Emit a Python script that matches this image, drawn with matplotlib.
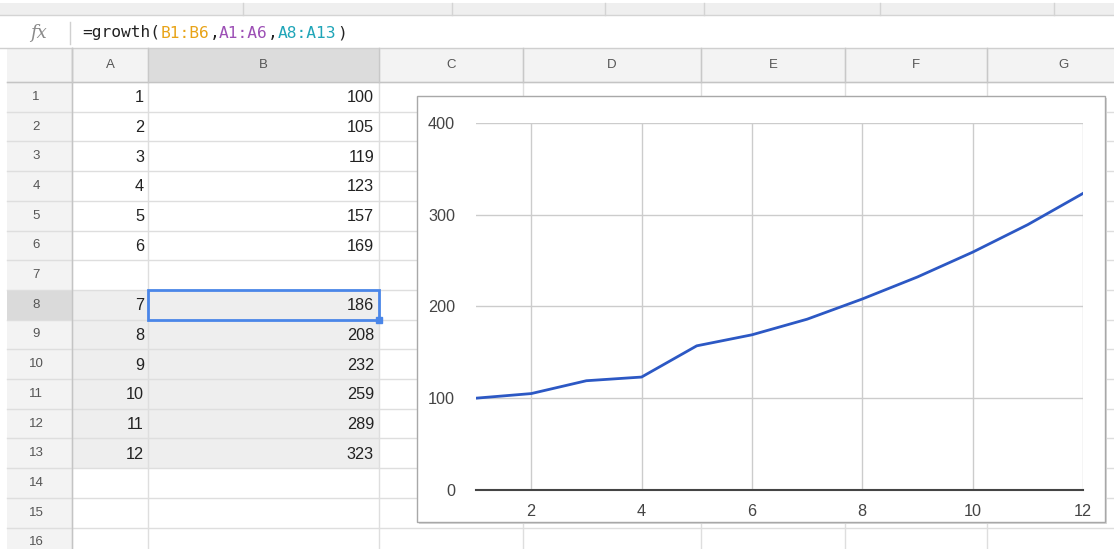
import matplotlib
matplotlib.use('Agg')
import matplotlib.pyplot as plt
from matplotlib.patches import Rectangle
import numpy as np

# known data (rows 1-6) and GROWTH results (rows 8-13)
known_x = [1, 2, 3, 4, 5, 6]
known_y = [100, 105, 119, 123, 157, 169]
new_x = [7, 8, 9, 10, 11, 12]
new_y = [186, 208, 232, 259, 289, 323]

col_labels = ["", "A", "B", "C", "D", "E", "F", "G"]
col_edges = [7, 72, 148, 379, 523, 701, 845, 987, 1140]
n_rows = 16
row_top = 82
row_h = 29.7

y_ticks = [0, 100, 200, 300, 400]
x_ticks = [2, 4, 6, 8, 10, 12]

formula_parts = [("=growth(", "#222222"), ("B1:B6", "#e8a317"), (",", "#222222"),
                 ("A1:A6", "#9c4fb5"), (",", "#222222"), ("A8:A13", "#1fa5b8"),
                 (")", "#222222")]

W, H = 1114, 549
fig = plt.figure(figsize=(W / 100, H / 100), dpi=100)
bg = fig.add_axes([0, 0, 1, 1])
bg.set_xlim(0, W)
bg.set_ylim(H, 0)
bg.axis('off')

sans = 'Liberation Sans'

# toolbar strip at the very top
bg.add_patch(Rectangle((0, 3), W, 12, color='#efefef', lw=0))
bg.plot([0, W], [15, 15], color='#d4d4d4', lw=1)
for xv in [243, 452, 605, 704, 880, 1054]:
    bg.plot([xv, xv], [3, 15], color='#d4d4d4', lw=1)

# formula bar
bg.text(38, 33, "fx", family='DejaVu Serif', style='italic', fontsize=13,
        color='#8a8a8a', ha='center', va='center')
bg.plot([70, 70], [22, 44], color='#d0d0d0', lw=1)
x_pos = 82
char_w = 9.8
for part, c in formula_parts:
    bg.text(x_pos, 33, part, family='DejaVu Sans Mono', fontsize=11.7, color=c,
            ha='left', va='center')
    x_pos += char_w * len(part)
bg.plot([0, W], [48, 48], color='#cfcfcf', lw=1)

# column header row
bg.add_patch(Rectangle((col_edges[0], 48), W, row_top - 48, color='#f3f3f3', lw=0))
bg.add_patch(Rectangle((col_edges[2], 48), col_edges[3] - col_edges[2], row_top - 48,
                       color='#dcdcdc', lw=0))
for i, lab in enumerate(col_labels):
    cx = (col_edges[i] + col_edges[i + 1]) / 2
    bg.text(cx, 65, lab, family=sans, fontsize=9.5, color='#555555',
            ha='center', va='center')

# row header column
row_edges = [row_top + k * row_h for k in range(n_rows + 1)]
bg.add_patch(Rectangle((col_edges[0], row_top), col_edges[1] - col_edges[0],
                       H - row_top, color='#f3f3f3', lw=0))
bg.add_patch(Rectangle((col_edges[0], row_edges[7]), col_edges[1] - col_edges[0],
                       row_h, color='#dadada', lw=0))

# shaded result range A8:B13
bg.add_patch(Rectangle((col_edges[1], row_edges[7]), col_edges[3] - col_edges[1],
                       row_h * 6, color='#eeeeee', lw=0))

# cell grid
for yv in row_edges:
    bg.plot([col_edges[0], W], [yv, yv], color='#dedede', lw=1)
for xv in col_edges[1:]:
    bg.plot([xv, xv], [48, H], color='#dedede', lw=1)
bg.plot([col_edges[0], W], [row_top, row_top], color='#c4c4c4', lw=1)
bg.plot([col_edges[1], col_edges[1]], [48, H], color='#c4c4c4', lw=1)
for xv in col_edges[1:]:
    bg.plot([xv, xv], [48, row_top], color='#c8c8c8', lw=1)

for r in range(n_rows):
    cy = (row_edges[r] + row_edges[r + 1]) / 2
    bg.text(36, cy, str(r + 1), family=sans, fontsize=9.5, color='#555555',
            ha='center', va='center')

# cell values
cells = [(r, a, b) for r, (a, b) in enumerate(zip(known_x, known_y))]
cells += [(r + 7, a, b) for r, (a, b) in enumerate(zip(new_x, new_y))]
for r, a, b in cells:
    cy = (row_edges[r] + row_edges[r + 1]) / 2 + 1
    bg.text(col_edges[2] - 4, cy, str(a), family=sans, fontsize=11.7,
            color='#222222', ha='right', va='center')
    bg.text(col_edges[3] - 5, cy, str(b), family=sans, fontsize=11.7,
            color='#222222', ha='right', va='center')

# active cell B8
bg.add_patch(Rectangle((col_edges[2], row_edges[7]), col_edges[3] - col_edges[2],
                       row_h, fill=False, ec='#4a86e8', lw=2, zorder=5))
bg.add_patch(Rectangle((col_edges[3] - 3, row_edges[8] - 3), 6, 6,
                       color='#4a86e8', zorder=6))

# chart frame
cx0, cy0, cx1, cy1 = 417, 96, 1105, 522
bg.add_patch(Rectangle((cx0 + 1.5, cy0 + 1.5), cx1 - cx0, cy1 - cy0,
                       color='#d8d8d8', lw=0, zorder=7))
bg.add_patch(Rectangle((cx0, cy0), cx1 - cx0, cy1 - cy0, fc='white',
                       ec='#a8a8a8', lw=1, zorder=8))

# chart plot area
px0, px1 = 476, 1083
py_top, py_bot = 122.7, 490
ax = fig.add_axes([px0 / W, (H - py_bot) / H, (px1 - px0) / W, (py_bot - py_top) / H])
ax.patch.set_alpha(0)
ax.plot(known_x + new_x, known_y + new_y, color='#2c58c4', lw=2, zorder=3,
        solid_joinstyle='round')
ax.set_xlim(1, 12)
ax.set_ylim(0, 400)
ax.set_xticks(x_ticks)
ax.set_yticks(y_ticks)
for s in ['top', 'right', 'left']:
    ax.spines[s].set_visible(False)
ax.spines['bottom'].set_color('#444444')
ax.spines['bottom'].set_linewidth(1.5)
ax.spines['bottom'].set_zorder(4)
for xv in x_ticks:
    ax.axvline(xv, color='#cccccc', lw=1, zorder=1)
for yv in y_ticks[1:]:
    ax.axhline(yv, color='#cccccc', lw=1, zorder=1)
ax.tick_params(length=0, labelsize=11.7, labelcolor='#444444')
ax.tick_params(axis='y', pad=15)
ax.tick_params(axis='x', pad=10)
for lab in ax.get_xticklabels() + ax.get_yticklabels():
    lab.set_family(sans)

fig.savefig('out.png', dpi=100)
